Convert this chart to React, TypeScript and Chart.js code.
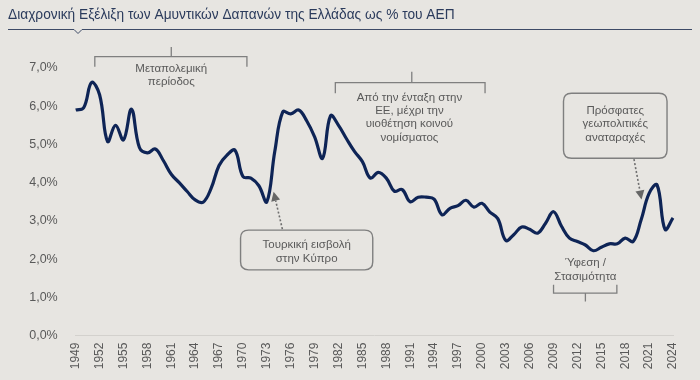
import React, { useEffect, useRef } from 'react';
import { Chart, registerables } from 'chart.js';

Chart.register(...registerables);

const TITLE = 'Διαχρονική Εξέλιξη των Αμυντικών Δαπανών της Ελλάδας ως % του ΑΕΠ';

const YEARS = [
  '1949', '1950', '1951', '1952', '1953', '1954', '1955', '1956', '1957', '1958',
  '1959', '1960', '1961', '1962', '1963', '1964', '1965', '1966', '1967', '1968',
  '1969', '1970', '1971', '1972', '1973', '1974', '1975', '1976', '1977', '1978',
  '1979', '1980', '1981', '1982', '1983', '1984', '1985', '1986', '1987', '1988',
  '1989', '1990', '1991', '1992', '1993', '1994', '1995', '1996', '1997', '1998',
  '1999', '2000', '2001', '2002', '2003', '2004', '2005', '2006', '2007', '2008',
  '2009', '2010', '2011', '2012', '2013', '2014', '2015', '2016', '2017', '2018',
  '2019', '2020', '2021', '2022', '2023', '2024',
];

const DEFENCE_PCT = [
  5.90, 5.96, 6.62, 6.30, 5.08, 5.50, 5.12, 5.92, 4.92, 4.78,
  4.88, 4.58, 4.22, 4.00, 3.77, 3.55, 3.49, 3.85, 4.45, 4.72,
  4.85, 4.16, 4.12, 3.92, 3.50, 4.82, 5.85, 5.80, 5.90, 5.62,
  5.20, 4.64, 5.75, 5.50, 5.15, 4.82, 4.55, 4.12, 4.27, 4.12,
  3.78, 3.82, 3.50, 3.62, 3.62, 3.57, 3.16, 3.33, 3.40, 3.54,
  3.36, 3.46, 3.23, 3.06, 2.49, 2.64, 2.84, 2.78, 2.68, 2.94,
  3.24, 2.86, 2.55, 2.46, 2.37, 2.22, 2.31, 2.40, 2.40, 2.55,
  2.46, 3.03, 3.72, 3.94, 2.78, 3.08,
];

const Y_MIN = 0;
const Y_MAX = 7;
const Y_STEP = 1;
const X_LABEL_EVERY = 3;

const NOTE_POSTWAR = ['Μεταπολεμική', 'περίοδος'];
const NOTE_EU = ['Από την ένταξη στην', 'ΕΕ, μέχρι την', 'υιοθέτηση κοινού', 'νομίσματος'];
const NOTE_GEO = ['Πρόσφατες', 'γεωπολιτικές', 'αναταραχές'];
const NOTE_CYPRUS = ['Τουρκική εισβολή', 'στην Κύπρο'];
const NOTE_RECESSION = ['Ύφεση /', 'Στασιμότητα'];

const BG = '#e7e5e1';
const LINE_COLOR = '#0e2456';
const TEXT_GRAY = '#595959';
const ANNO_GRAY = '#7f7f7f';
const TITLE_COLOR = '#2b3b5c';
const FONT = '"Liberation Sans", Arial, sans-serif';

function roundRectPath(ctx: CanvasRenderingContext2D, x: number, y: number, w: number, h: number, r: number) {
  ctx.beginPath();
  ctx.moveTo(x + r, y);
  ctx.lineTo(x + w - r, y);
  ctx.quadraticCurveTo(x + w, y, x + w, y + r);
  ctx.lineTo(x + w, y + h - r);
  ctx.quadraticCurveTo(x + w, y + h, x + w - r, y + h);
  ctx.lineTo(x + r, y + h);
  ctx.quadraticCurveTo(x, y + h, x, y + h - r);
  ctx.lineTo(x, y + r);
  ctx.quadraticCurveTo(x, y, x + r, y);
  ctx.closePath();
}

function arrow(ctx: CanvasRenderingContext2D, x1: number, y1: number, x2: number, y2: number) {
  const ang = Math.atan2(y2 - y1, x2 - x1);
  const headLen = 9;
  const bx = x2 - headLen * Math.cos(ang);
  const by = y2 - headLen * Math.sin(ang);
  ctx.save();
  ctx.strokeStyle = '#6f6f6f';
  ctx.lineWidth = 1.6;
  ctx.setLineDash([2, 2]);
  ctx.beginPath();
  ctx.moveTo(x1, y1);
  ctx.lineTo(bx, by);
  ctx.stroke();
  ctx.setLineDash([]);
  ctx.fillStyle = '#666666';
  ctx.beginPath();
  ctx.moveTo(x2, y2);
  ctx.lineTo(bx + 4.5 * Math.sin(ang), by - 4.5 * Math.cos(ang));
  ctx.lineTo(bx - 4.5 * Math.sin(ang), by + 4.5 * Math.cos(ang));
  ctx.closePath();
  ctx.fill();
  ctx.restore();
}

const annotationsPlugin = {
  id: 'greeceAnnotations',
  afterDraw(chart: any) {
    const ctx: CanvasRenderingContext2D = chart.ctx;
    const xs = chart.scales.x;
    const ys = chart.scales.y;
    const x0 = xs.getPixelForValue(0);
    const step = xs.getPixelForValue(1) - x0;
    const first = Number(YEARS[0]);
    const X = (yr: number) => x0 + (yr - first) * step;
    const Y = (v: number) => ys.getPixelForValue(v);

    ctx.save();
    // Title
    ctx.fillStyle = TITLE_COLOR;
    ctx.textBaseline = 'middle';
    ctx.textAlign = 'left';
    let size = 14;
    ctx.font = `${size}px ${FONT}`;
    const w = ctx.measureText(TITLE).width;
    size = Math.min(16, size * (447 / w));
    ctx.font = `${size}px ${FONT}`;
    ctx.fillText(TITLE, 8, 15);
    // Title underline with notch
    ctx.strokeStyle = '#3d4a66';
    ctx.lineWidth = 1;
    ctx.beginPath();
    ctx.moveTo(8, 29.5);
    ctx.lineTo(74, 29.5);
    ctx.lineTo(78, 33.5);
    ctx.lineTo(82, 29.5);
    ctx.lineTo(692, 29.5);
    ctx.stroke();

    const text = (lines: string[], cx: number, ys0: number[]) => {
      ctx.fillStyle = TEXT_GRAY;
      ctx.font = `11.5px ${FONT}`;
      ctx.textAlign = 'center';
      ctx.textBaseline = 'middle';
      lines.forEach((l, i) => ctx.fillText(l, cx, ys0[i]));
    };

    ctx.strokeStyle = ANNO_GRAY;
    ctx.lineWidth = 1.3;
    // Bracket: postwar
    {
      const xa = X(1951.4), xb = X(1970.5), xc = X(1961.0);
      const yh = Y(7.30), ye = Y(7.03), yt = Y(7.55);
      ctx.beginPath();
      ctx.moveTo(xa, ye); ctx.lineTo(xa, yh); ctx.lineTo(xb, yh); ctx.lineTo(xb, ye);
      ctx.moveTo(xc, yh); ctx.lineTo(xc, yt);
      ctx.stroke();
      text(NOTE_POSTWAR, xc, [Y(6.97), Y(6.63)]);
    }
    // Bracket: EU
    {
      const xa = X(1981.6), xb = X(2000.4), xc = X(1991.2);
      const yh = Y(6.62), ye = Y(6.34), yt = Y(6.90);
      ctx.strokeStyle = ANNO_GRAY;
      ctx.beginPath();
      ctx.moveTo(xa, ye); ctx.lineTo(xa, yh); ctx.lineTo(xb, yh); ctx.lineTo(xb, ye);
      ctx.moveTo(xc, yh); ctx.lineTo(xc, yt);
      ctx.stroke();
      text(NOTE_EU, X(1990.9), [Y(6.21), Y(5.89), Y(5.53), Y(5.18)]);
    }
    // Bracket: recession (below)
    {
      const xa = X(2009.0), xb = X(2016.95), xc = X(2013.0);
      const yh = Y(1.11), ye = Y(1.33), yt = Y(0.89);
      ctx.strokeStyle = ANNO_GRAY;
      ctx.beginPath();
      ctx.moveTo(xa, ye); ctx.lineTo(xa, yh); ctx.lineTo(xb, yh); ctx.lineTo(xb, ye);
      ctx.moveTo(xc, yh); ctx.lineTo(xc, yt);
      ctx.stroke();
      text(NOTE_RECESSION, xc, [Y(1.91), Y(1.55)]);
    }
    // Box: geopolitical
    {
      const xa = X(2010.25), xb = X(2023.25);
      const ya = Y(6.34), yb = Y(4.64);
      ctx.strokeStyle = ANNO_GRAY;
      ctx.lineWidth = 1.4;
      roundRectPath(ctx, xa, ya, xb - xa, yb - ya, 8);
      ctx.stroke();
      text(NOTE_GEO, (xa + xb) / 2, [Y(5.89), Y(5.54), Y(5.18)]);
      arrow(ctx, X(2019.1), yb + 1, X(2020.05), Y(3.56));
    }
    // Box: Cyprus
    {
      const xa = X(1969.7), xb = X(1986.3);
      const ya = Y(2.76), yb = Y(1.72);
      ctx.strokeStyle = ANNO_GRAY;
      ctx.lineWidth = 1.4;
      roundRectPath(ctx, xa, ya, xb - xa, yb - ya, 8);
      ctx.stroke();
      text(NOTE_CYPRUS, (xa + xb) / 2, [Y(2.37), Y(2.0)]);
      arrow(ctx, X(1974.95), ya - 1, X(1973.85), Y(3.76));
    }
    ctx.restore();
  },
};

export default function App() {
  const ref = useRef<HTMLCanvasElement | null>(null);

  useEffect(() => {
    if (!ref.current) return;
    const chart = new Chart(ref.current, {
      type: 'line',
      data: {
        labels: YEARS,
        datasets: [
          {
            data: DEFENCE_PCT,
            borderColor: LINE_COLOR,
            borderWidth: 3.2,
            pointRadius: 0,
            tension: 0.4,
            fill: false,
          },
        ],
      },
      options: {
        responsive: false,
        animation: false,
        layout: { padding: { top: 68, right: 27, left: 0, bottom: 0 } },
        plugins: { legend: { display: false }, tooltip: { enabled: false }, title: { display: false } },
        scales: {
          x: {
            type: 'category',
            offset: false,
            grid: { display: false, drawTicks: false },
            border: { display: true, color: '#d3d1cd', width: 1 },
            afterFit: (s: any) => { s.height = 44.4; },
            ticks: {
              autoSkip: false,
              minRotation: 90,
              maxRotation: 90,
              padding: 7,
              color: TEXT_GRAY,
              font: { family: FONT, size: 12 },
              callback: (_v: any, i: number) => (i % X_LABEL_EVERY === 0 ? YEARS[i] : ''),
            },
          },
          y: {
            min: Y_MIN,
            max: Y_MAX,
            grid: { display: false, drawTicks: false },
            border: { display: false },
            afterFit: (s: any) => { s.width = 75.7; },
            ticks: {
              stepSize: Y_STEP,
              padding: 18,
              color: TEXT_GRAY,
              font: { family: FONT, size: 12.5 },
              callback: (v: any) => Number(v).toFixed(1).replace('.', ',') + '%',
            },
          },
        },
      },
      plugins: [annotationsPlugin],
    });
    return () => chart.destroy();
  }, []);

  return (
    <div style={{ position: 'fixed', left: 0, top: 0, width: 700, height: 380, background: BG }}>
      <canvas ref={ref} width={700} height={380} style={{ display: 'block' }} />
    </div>
  );
}
